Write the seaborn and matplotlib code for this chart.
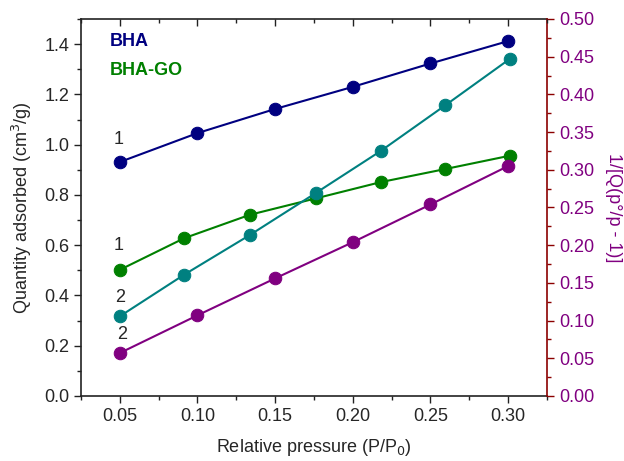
import numpy as np
import pandas as pd
import seaborn as sns
import matplotlib
matplotlib.use("Agg")
import matplotlib.pyplot as plt
from matplotlib.ticker import MultipleLocator

# Data
x_bha = [0.05, 0.10, 0.15, 0.20, 0.25, 0.30]
x_go = [0.05, 0.0915, 0.1337, 0.176, 0.218, 0.2595, 0.301]
bha_q = [0.931, 1.046, 1.142, 1.230, 1.323, 1.412]          # curve 1, left axis
go_q = [0.502, 0.628, 0.721, 0.786, 0.851, 0.903, 0.956]    # curve 1, left axis
bha_bet = [0.057, 0.107, 0.156, 0.204, 0.254, 0.305]        # curve 2, right axis
go_bet = [0.1057, 0.161, 0.2135, 0.269, 0.325, 0.3855, 0.447]  # curve 2, right axis

x_ticks = [0.05, 0.10, 0.15, 0.20, 0.25, 0.30]
x_ticklabels = ["0.05", "0.10", "0.15", "0.20", "0.25", "0.30"]
y_ticks = [0.0, 0.2, 0.4, 0.6, 0.8, 1.0, 1.2, 1.4]
y_ticklabels = ["0.0", "0.2", "0.4", "0.6", "0.8", "1.0", "1.2", "1.4"]
y2_ticks = [0.0, 0.05, 0.10, 0.15, 0.20, 0.25, 0.30, 0.35, 0.40, 0.45, 0.50]
y2_ticklabels = ["0.00", "0.05", "0.10", "0.15", "0.20", "0.25", "0.30",
                 "0.35", "0.40", "0.45", "0.50"]

sns.set_style("ticks")
plt.rcParams['font.family'] = ['Liberation Sans', 'DejaVu Sans']

navy = "#000080"
green = "#008000"
teal = "#008080"
purple = "#800080"
darkred = "#8B0000"

fig = plt.figure(figsize=(6.24, 4.61), dpi=100)
ax = fig.add_axes([0.1298, 0.141, 0.8766 - 0.1298, 0.9588 - 0.141])
ax2 = ax.twinx()
ax3 = ax.twiny()

ms = 9
sns.lineplot(x=x_bha, y=bha_q, ax=ax, color=navy, marker='o', markersize=ms,
             markeredgecolor=navy, linewidth=1.5)
sns.lineplot(x=x_go, y=go_q, ax=ax, color=green, marker='o', markersize=ms,
             markeredgecolor=green, linewidth=1.5)
sns.lineplot(x=x_bha, y=bha_bet, ax=ax2, color=purple, marker='o', markersize=ms,
             markeredgecolor=purple, linewidth=1.5)
sns.lineplot(x=x_go, y=go_bet, ax=ax2, color=teal, marker='o', markersize=ms,
             markeredgecolor=teal, linewidth=1.5)

ax.set_xlim(0.025, 0.325)
ax3.set_xlim(0.025, 0.325)
ax.set_ylim(0, 1.5)
ax2.set_ylim(0, 0.5)

ax.set_xticks(x_ticks)
ax.set_xticklabels(x_ticklabels)
ax.xaxis.set_minor_locator(MultipleLocator(0.025))
ax3.set_xticks(x_ticks)
ax3.set_xticklabels([])
ax3.xaxis.set_minor_locator(MultipleLocator(0.025))
ax.set_yticks(y_ticks)
ax.set_yticklabels(y_ticklabels)
ax.yaxis.set_minor_locator(MultipleLocator(0.1))
ax2.set_yticks(y2_ticks)
ax2.set_yticklabels(y2_ticklabels)
ax2.yaxis.set_minor_locator(MultipleLocator(0.025))

fs = 13
ax.tick_params(axis='both', which='major', labelsize=fs, length=5, width=1,
               direction='out', color='#222222')
ax.tick_params(axis='both', which='minor', length=3, width=1, direction='out',
               color='#222222')
ax3.tick_params(axis='x', which='major', length=5, width=1, direction='in',
                top=True, labeltop=False, color='#222222')
ax3.tick_params(axis='x', which='minor', length=3, width=1, direction='in',
                top=True, color='#222222')
ax2.tick_params(axis='y', which='major', labelsize=fs, length=5, width=1,
                color=darkred, labelcolor=purple, direction='out')
ax2.tick_params(axis='y', which='minor', length=3, width=1, color=darkred, direction='out')

for s in ['left', 'bottom', 'top']:
    ax.spines[s].set_color('#222222')
    ax.spines[s].set_linewidth(1.2)
ax.spines['right'].set_visible(False)
for a in (ax2, ax3):
    for s in ['left', 'top', 'bottom']:
        a.spines[s].set_visible(False)
ax3.spines['right'].set_visible(False)
ax2.spines['right'].set_color(darkred)
ax2.spines['right'].set_linewidth(1.2)

ax.set_xlabel("Relative pressure (P/P$_0$)", fontsize=fs, labelpad=9)
ax.set_ylabel("Quantity adsorbed (cm$^3$/g)", fontsize=fs, labelpad=7)
ax2.set_ylabel("1/[Q(p°/p - 1)]", fontsize=fs, color=purple, rotation=270, labelpad=20)

ax.text(0.0437, 1.41, "BHA", color=navy, fontsize=fs, fontweight='bold', va='center')
ax.text(0.0437, 1.295, "BHA-GO", color=green, fontsize=fs, fontweight='bold', va='center')

ax.text(0.0495, 1.02, "1", fontsize=fs, ha='center', va='center')
ax.text(0.0495, 0.60, "1", fontsize=fs, ha='center', va='center')
ax.text(0.0505, 0.39, "2", fontsize=fs, ha='center', va='center')
ax.text(0.0515, 0.245, "2", fontsize=fs, ha='center', va='center')

fig.savefig("out.png", dpi=100)
